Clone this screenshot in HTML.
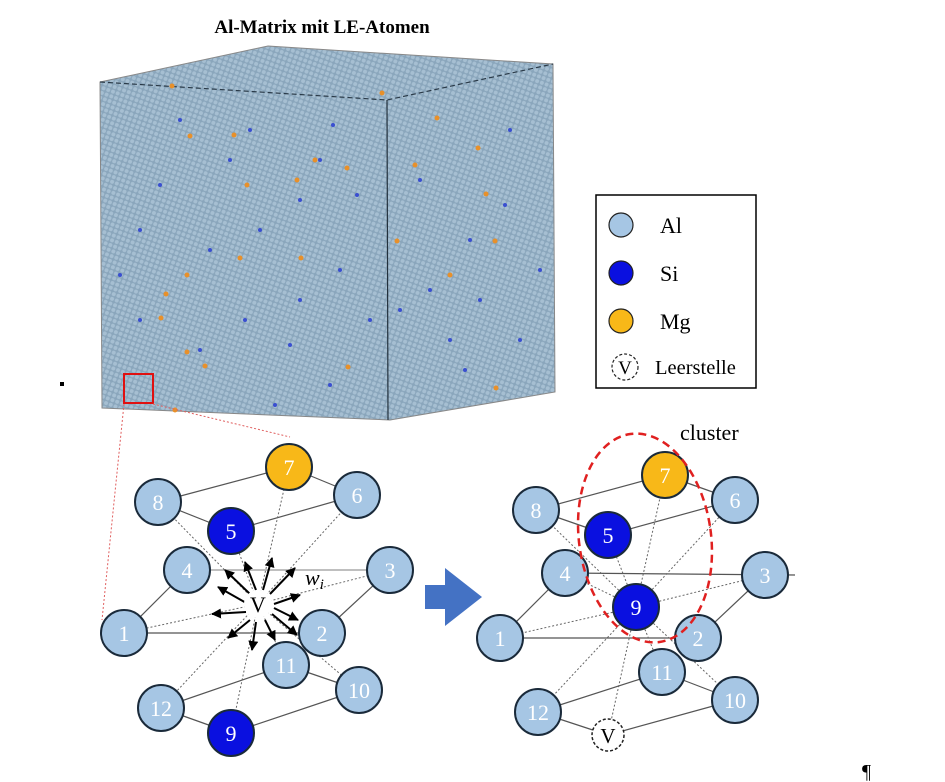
<!DOCTYPE html>
<html><head><meta charset="utf-8"><style>
html,body{margin:0;padding:0;background:#fff}
svg{display:block;font-family:"Liberation Serif",serif}
</style></head><body>
<svg width="945" height="782" viewBox="0 0 945 782" xmlns="http://www.w3.org/2000/svg">
<defs>
<pattern id="lat" width="5" height="5" patternUnits="userSpaceOnUse" patternTransform="rotate(20)">
<rect width="5" height="5" fill="#8aa6bc"/>
<circle cx="2.5" cy="2.5" r="2" fill="#a6bfd2"/>
</pattern>
<marker id="ah" viewBox="0 0 10 10" refX="9" refY="5" markerWidth="5" markerHeight="5" orient="auto"><path d="M0,0L10,5L0,10z" fill="#000"/></marker>
</defs>
<text x="322" y="33" font-size="19" font-weight="bold" text-anchor="middle">Al-Matrix mit LE-Atomen</text>
<!-- cube -->
<polygon points="100,82 268,46 553,64 555,392 390,420 102,408" fill="url(#lat)" stroke="#888" stroke-width="1"/>
<polyline points="100,82 387,100 553,64" fill="none" stroke="#2a3a48" stroke-width="1.2" stroke-dasharray="5,3"/>
<line x1="387" y1="100" x2="388" y2="420" stroke="#22303c" stroke-width="1.2"/>
<g fill="#3a4fd0">
<circle cx="160" cy="185" r="2"/><circle cx="210" cy="250" r="2"/><circle cx="250" cy="130" r="2"/><circle cx="320" cy="160" r="2"/><circle cx="140" cy="230" r="2"/><circle cx="300" cy="300" r="2"/><circle cx="340" cy="270" r="2"/><circle cx="200" cy="350" r="2"/><circle cx="420" cy="180" r="2"/><circle cx="470" cy="240" r="2"/><circle cx="510" cy="130" r="2"/><circle cx="430" cy="290" r="2"/><circle cx="520" cy="340" r="2"/><circle cx="260" cy="230" r="2"/><circle cx="370" cy="320" r="2"/><circle cx="140" cy="320" r="2"/><circle cx="480" cy="300" r="2"/><circle cx="300" cy="200" r="2"/>
<circle cx="180" cy="120" r="2"/><circle cx="230" cy="160" r="2"/><circle cx="333" cy="125" r="2"/><circle cx="357" cy="195" r="2"/><circle cx="245" cy="320" r="2"/><circle cx="290" cy="345" r="2"/><circle cx="330" cy="385" r="2"/><circle cx="450" cy="340" r="2"/><circle cx="505" cy="205" r="2"/><circle cx="540" cy="270" r="2"/><circle cx="465" cy="370" r="2"/><circle cx="120" cy="275" r="2"/><circle cx="400" cy="310" r="2"/><circle cx="275" cy="405" r="2"/>
</g>
<g fill="#e8902a">
<circle cx="172" cy="86" r="2.5"/><circle cx="190" cy="136" r="2.5"/><circle cx="234" cy="135" r="2.5"/><circle cx="315" cy="160" r="2.5"/><circle cx="347" cy="168" r="2.5"/><circle cx="437" cy="118" r="2.5"/><circle cx="382" cy="93" r="2.5"/><circle cx="247" cy="185" r="2.5"/><circle cx="297" cy="180" r="2.5"/><circle cx="415" cy="165" r="2.5"/><circle cx="486" cy="194" r="2.5"/><circle cx="240" cy="258" r="2.5"/><circle cx="301" cy="258" r="2.5"/><circle cx="397" cy="241" r="2.5"/><circle cx="495" cy="241" r="2.5"/><circle cx="166" cy="294" r="2.5"/><circle cx="187" cy="275" r="2.5"/><circle cx="450" cy="275" r="2.5"/><circle cx="205" cy="366" r="2.5"/><circle cx="187" cy="352" r="2.5"/><circle cx="348" cy="367" r="2.5"/><circle cx="496" cy="388" r="2.5"/><circle cx="161" cy="318" r="2.5"/><circle cx="175" cy="410" r="2.5"/><circle cx="478" cy="148" r="2.5"/>
</g>
<rect x="124" y="374" width="29" height="29" fill="none" stroke="#e01010" stroke-width="2"/>
<line x1="124" y1="404" x2="102" y2="620" stroke="#e06060" stroke-width="1" stroke-dasharray="2,2"/>
<line x1="153" y1="404" x2="290" y2="437" stroke="#e06060" stroke-width="1" stroke-dasharray="2,2"/>
<rect x="60" y="382" width="4" height="4" fill="#000"/>
<!-- legend -->
<rect x="596" y="195" width="160" height="193" fill="#fff" stroke="#000" stroke-width="1.5"/>
<circle cx="621" cy="225" r="12" fill="#a6c6e4" stroke="#222" stroke-width="1.2"/>
<circle cx="621" cy="273" r="12" fill="#0a10e0" stroke="#222" stroke-width="1.2"/>
<circle cx="621" cy="321" r="12" fill="#f8b818" stroke="#222" stroke-width="1.2"/>
<circle cx="625" cy="367" r="13" fill="#fff" stroke="#222" stroke-width="1.2" stroke-dasharray="3,2"/>
<text x="625" y="374" font-size="19" text-anchor="middle">V</text>
<g font-size="22"><text x="660" y="233">Al</text><text x="660" y="281">Si</text><text x="660" y="329">Mg</text><text x="655" y="374" font-size="20.5">Leerstelle</text></g>
<!-- left cluster lines -->
<g stroke="#555" stroke-width="1.2">
<line x1="158" y1="502" x2="289" y2="467"/><line x1="289" y1="467" x2="357" y2="495"/><line x1="158" y1="502" x2="231" y2="531"/><line x1="231" y1="531" x2="357" y2="495"/>
<line x1="187" y1="570" x2="390" y2="570" stroke="#999"/><line x1="124" y1="633" x2="187" y2="570"/><line x1="124" y1="633" x2="322" y2="633"/><line x1="322" y1="633" x2="390" y2="570"/>
<line x1="161" y1="708" x2="286" y2="665"/><line x1="286" y1="665" x2="359" y2="690"/><line x1="161" y1="708" x2="231" y2="733"/><line x1="231" y1="733" x2="359" y2="690"/>
</g>
<g stroke="#666" stroke-width="1" stroke-dasharray="2,2">
<line x1="258" y1="604" x2="158" y2="502"/><line x1="258" y1="604" x2="289" y2="467"/><line x1="258" y1="604" x2="357" y2="495"/><line x1="258" y1="604" x2="231" y2="531"/><line x1="258" y1="604" x2="390" y2="570"/><line x1="258" y1="604" x2="124" y2="633"/><line x1="258" y1="604" x2="161" y2="708"/><line x1="258" y1="604" x2="231" y2="733"/><line x1="258" y1="604" x2="286" y2="665"/><line x1="258" y1="604" x2="359" y2="690"/>
</g>
<g stroke="#000" stroke-width="2" marker-end="url(#ah)">
<line x1="250" y1="594" x2="225" y2="570"/><line x1="256" y1="590" x2="245" y2="562"/><line x1="263" y1="590" x2="272" y2="558"/><line x1="270" y1="594" x2="295" y2="568"/><line x1="274" y1="604" x2="300" y2="595"/><line x1="248" y1="604" x2="218" y2="587"/><line x1="246" y1="612" x2="212" y2="614"/><line x1="250" y1="620" x2="228" y2="638"/><line x1="256" y1="622" x2="252" y2="650"/><line x1="265" y1="620" x2="275" y2="640"/><line x1="272" y1="614" x2="297" y2="635"/><line x1="274" y1="608" x2="298" y2="620"/>
</g>
<circle cx="258" cy="604" r="14" fill="#fff"/>
<text x="258" y="612" font-size="22" text-anchor="middle">V</text>
<text x="305" y="585" font-size="22" font-style="italic">w<tspan font-size="15" dy="4">i</tspan></text>
<g stroke="#1a2a3a" stroke-width="2">
<circle cx="289" cy="467" r="23" fill="#f8b818"/><circle cx="158" cy="502" r="23" fill="#a6c6e4"/><circle cx="357" cy="495" r="23" fill="#a6c6e4"/><circle cx="231" cy="531" r="23" fill="#0a10e0"/><circle cx="187" cy="570" r="23" fill="#a6c6e4"/><circle cx="390" cy="570" r="23" fill="#a6c6e4"/><circle cx="124" cy="633" r="23" fill="#a6c6e4"/><circle cx="322" cy="633" r="23" fill="#a6c6e4"/><circle cx="286" cy="665" r="23" fill="#a6c6e4"/><circle cx="359" cy="690" r="23" fill="#a6c6e4"/><circle cx="161" cy="708" r="23" fill="#a6c6e4"/><circle cx="231" cy="733" r="23" fill="#0a10e0"/>
</g>
<g fill="#fff" font-size="22" text-anchor="middle">
<text x="289" y="475">7</text><text x="158" y="510">8</text><text x="357" y="503">6</text><text x="231" y="539">5</text><text x="187" y="578">4</text><text x="390" y="578">3</text><text x="124" y="641">1</text><text x="322" y="641">2</text><text x="286" y="673">11</text><text x="359" y="698">10</text><text x="161" y="716">12</text><text x="231" y="741">9</text>
</g>
<!-- arrow -->
<polygon points="425,585 445,585 445,568 482,597 445,626 445,609 425,609" fill="#4472c4"/>
<!-- right cluster -->
<g stroke="#555" stroke-width="1.2">
<line x1="536" y1="510" x2="665" y2="475"/><line x1="665" y1="475" x2="735" y2="500"/><line x1="536" y1="510" x2="608" y2="535"/><line x1="608" y1="535" x2="735" y2="500"/>
<line x1="565" y1="573" x2="795" y2="575"/><line x1="500" y1="638" x2="565" y2="573"/><line x1="500" y1="638" x2="698" y2="638"/><line x1="698" y1="638" x2="765" y2="575"/>
<line x1="538" y1="712" x2="662" y2="672"/><line x1="662" y1="672" x2="735" y2="700"/><line x1="538" y1="712" x2="608" y2="735"/><line x1="608" y1="735" x2="735" y2="700"/>
</g>
<g stroke="#666" stroke-width="1" stroke-dasharray="2,2">
<line x1="636" y1="607" x2="536" y2="510"/><line x1="636" y1="607" x2="665" y2="475"/><line x1="636" y1="607" x2="735" y2="500"/><line x1="636" y1="607" x2="608" y2="535"/><line x1="636" y1="607" x2="565" y2="573"/><line x1="636" y1="607" x2="765" y2="575"/><line x1="636" y1="607" x2="500" y2="638"/><line x1="636" y1="607" x2="538" y2="712"/><line x1="636" y1="607" x2="608" y2="735"/><line x1="636" y1="607" x2="662" y2="672"/><line x1="636" y1="607" x2="735" y2="700"/>
</g>
<g stroke="#1a2a3a" stroke-width="2">
<circle cx="665" cy="475" r="23" fill="#f8b818"/><circle cx="536" cy="510" r="23" fill="#a6c6e4"/><circle cx="735" cy="500" r="23" fill="#a6c6e4"/><circle cx="608" cy="535" r="23" fill="#0a10e0"/><circle cx="565" cy="573" r="23" fill="#a6c6e4"/><circle cx="765" cy="575" r="23" fill="#a6c6e4"/><circle cx="636" cy="607" r="23" fill="#0a10e0"/><circle cx="500" cy="638" r="23" fill="#a6c6e4"/><circle cx="698" cy="638" r="23" fill="#a6c6e4"/><circle cx="662" cy="672" r="23" fill="#a6c6e4"/><circle cx="735" cy="700" r="23" fill="#a6c6e4"/><circle cx="538" cy="712" r="23" fill="#a6c6e4"/>
</g>
<circle cx="608" cy="735" r="16" fill="#fff" stroke="#222" stroke-width="1.5" stroke-dasharray="3,2"/>
<text x="608" y="743" font-size="21" text-anchor="middle">V</text>
<g fill="#fff" font-size="22" text-anchor="middle">
<text x="665" y="483">7</text><text x="536" y="518">8</text><text x="735" y="508">6</text><text x="608" y="543">5</text><text x="565" y="581">4</text><text x="765" y="583">3</text><text x="636" y="615">9</text><text x="500" y="646">1</text><text x="698" y="646">2</text><text x="662" y="680">11</text><text x="735" y="708">10</text><text x="538" y="720">12</text>
</g>
<ellipse cx="645" cy="538" rx="66" ry="105" transform="rotate(-8 645 538)" fill="none" stroke="#e02020" stroke-width="2.5" stroke-dasharray="8,5"/>
<text x="680" y="440" font-size="22">cluster</text>
<text x="862" y="778" font-size="20">¶</text>
</svg>
</body></html>
